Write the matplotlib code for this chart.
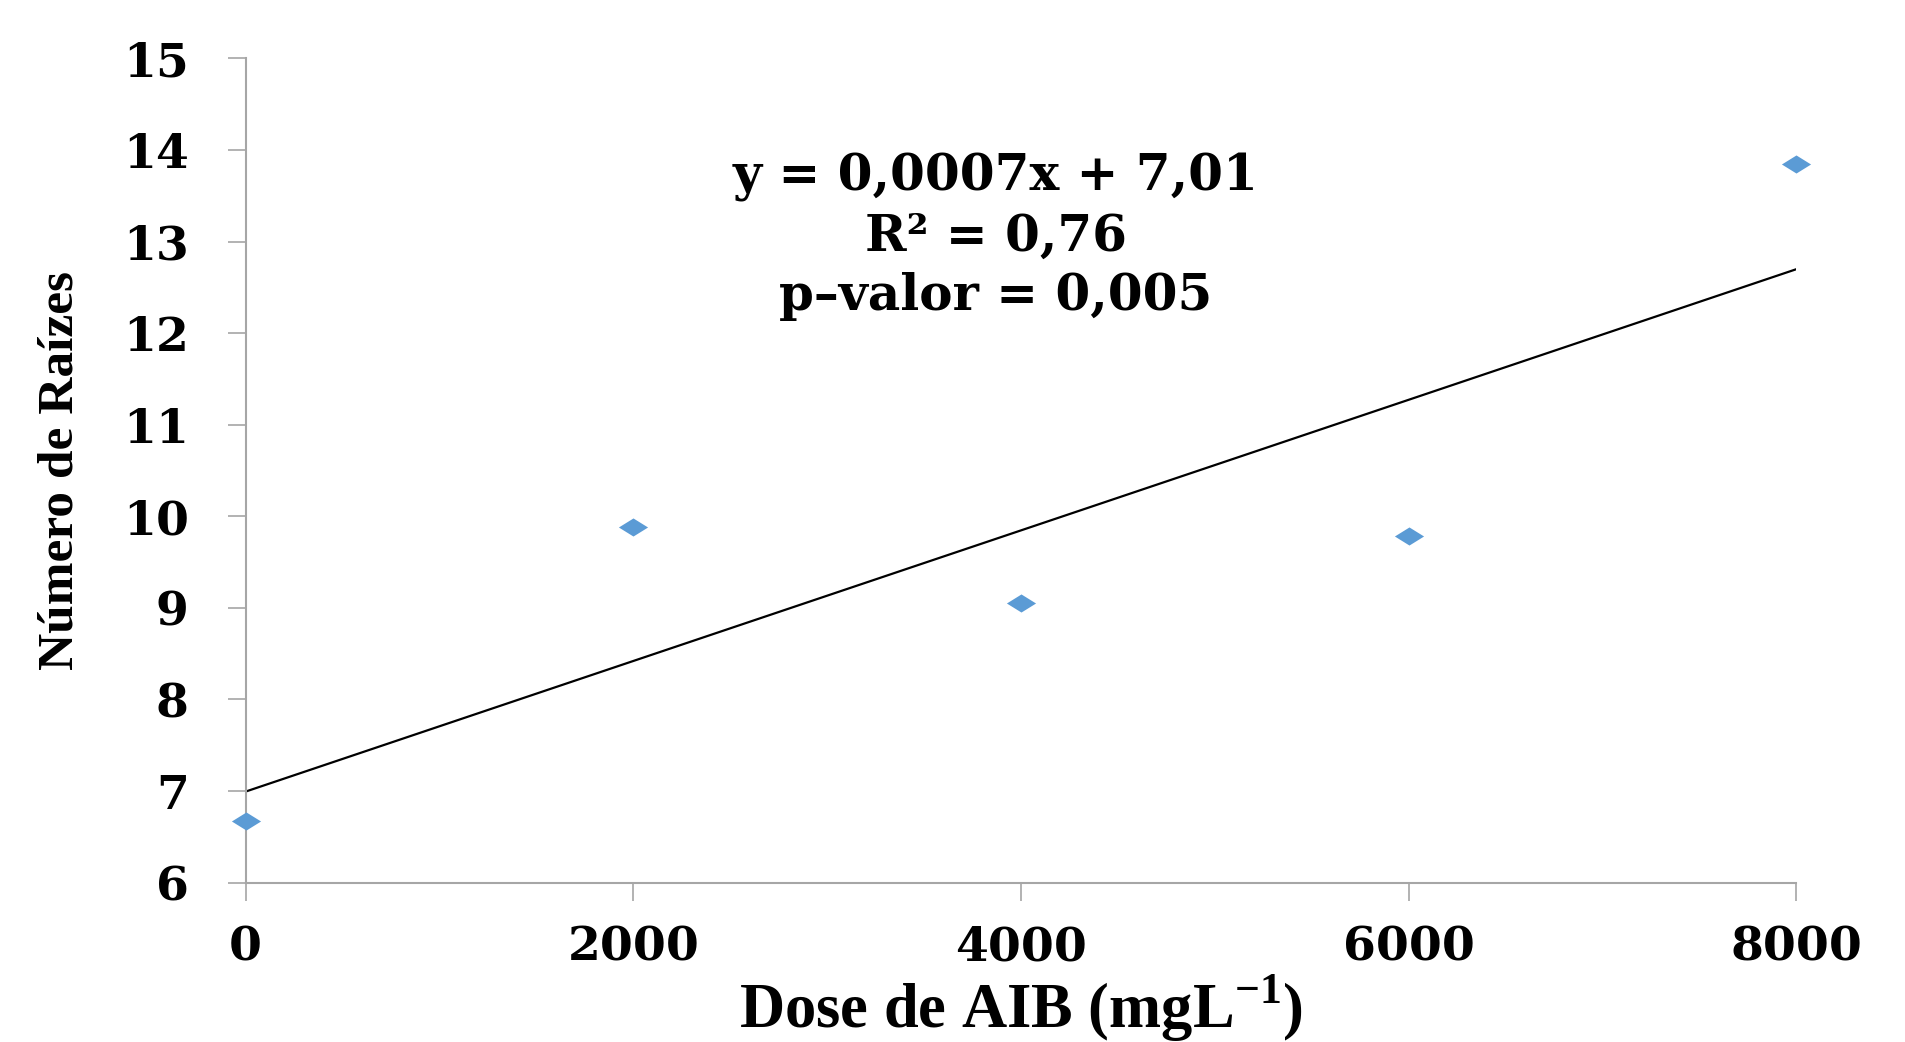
import numpy as np
import matplotlib.pyplot as plt
from matplotlib.path import Path

plt.rcParams['font.family'] = ['Liberation Serif', 'DejaVu Serif']
plt.rcParams['font.weight'] = 'bold'
plt.rcParams['mathtext.fontset'] = 'custom'
plt.rcParams['mathtext.rm'] = 'Liberation Serif:bold'
plt.rcParams['mathtext.bf'] = 'Liberation Serif:bold'

# data
dose = [0, 2000, 4000, 6000, 8000]
raizes = [6.67, 9.88, 9.05, 9.78, 13.85]
x_ticks = [0, 2000, 4000, 6000, 8000]
y_ticks = [6, 7, 8, 9, 10, 11, 12, 13, 14, 15]

# linear trend
slope, intercept = np.polyfit(dose, raizes, 1)
xfit = np.array([dose[0], dose[-1]])
yfit = slope * xfit + intercept

# flattened diamond like the excel marker
diamond = Path([(-1, 0), (0, 0.62), (1, 0), (0, -0.62), (-1, 0)],
               [Path.MOVETO, Path.LINETO, Path.LINETO, Path.LINETO, Path.CLOSEPOLY])

wide = ['DejaVu Serif']  # the reference numbers look stretched, this one is wider

fig = plt.figure(figsize=(19.05, 10.42), dpi=100)
ax = fig.add_axes([0.129, 0.153, 0.814, 0.791])

ax.plot(xfit, yfit, color='black', lw=1.6, zorder=2)
ax.plot(dose, raizes, linestyle='none', marker=diamond, markersize=21,
        color='#5B9BD5', markeredgewidth=0, clip_on=False, zorder=3)

ax.set_xlim(0, 8000)
ax.set_ylim(6, 15)
ax.set_xticks(x_ticks)
ax.set_yticks(y_ticks)

for s in ['top', 'right']:
    ax.spines[s].set_visible(False)
for s in ['left', 'bottom']:
    ax.spines[s].set_color('#A6A6A6')
    ax.spines[s].set_linewidth(1.5)

ax.tick_params(axis='both', direction='out', length=13, width=1.2, color='#A6A6A6')
ax.tick_params(axis='y', pad=28)
ax.tick_params(axis='x', pad=17)
for lab in ax.get_xticklabels() + ax.get_yticklabels():
    lab.set_family(wide)
    lab.set_fontsize(34)
    lab.set_fontweight('bold')

ax.set_xlabel(r'Dose de AIB (mgL$^{-1}$)', fontsize=45, fontweight='bold', labelpad=2)
ax.set_ylabel('Número de Raízes', fontsize=37, fontweight='bold', labelpad=28)

ax.text(3870, 13.05, 'y = 0,0007x + 7,01\nR² = 0,76\np–valor = 0,005',
        ha='center', va='center', fontsize=36, fontweight='bold', linespacing=1.28,
        family=wide)

fig.savefig('out.png', dpi=100)
